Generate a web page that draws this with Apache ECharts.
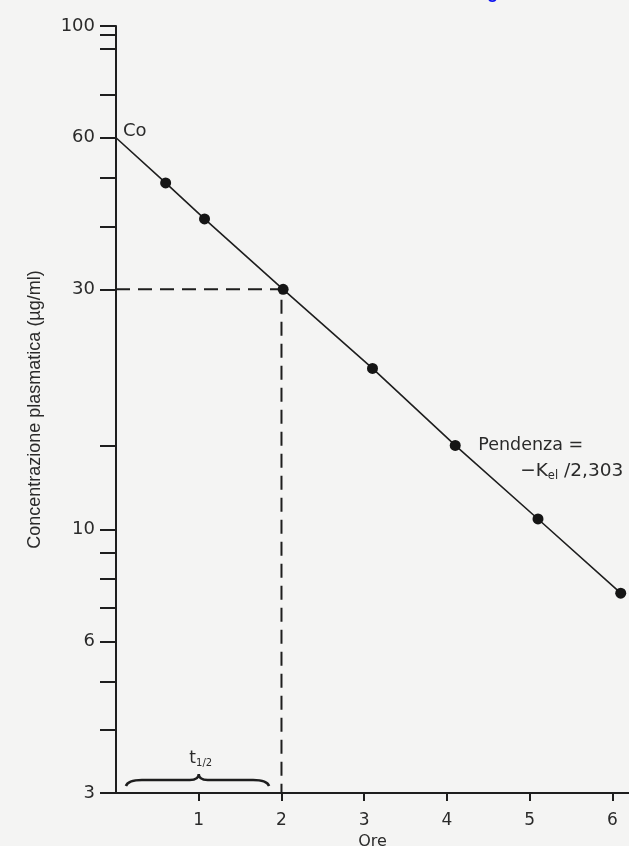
<!DOCTYPE html>
<html>
<head>
<meta charset="utf-8">
<script src="https://cdn.jsdelivr.net/npm/echarts@6/dist/echarts.min.js"></script>
<style>
html,body{margin:0;padding:0;background:#f4f4f3;}
#c{width:629px;height:846px;}
</style>
</head>
<body>
<div id="c"></div>
<script>
// ---- data ----
const hours = [0.6, 1.07, 2.02, 3.1, 4.1, 5.1, 6.1];
const conc  = [48.8, 41.4, 30, 20.9, 14.7, 10.5, 7.48];
const c0 = [0, 60];                       // Co (intercept)
const halfLifeGuide = [[0, 30], [2, 30], [2, 3]];
const yTickValues  = [100, 96, 90, 73, 60, 50, 40, 30, 14.7, 10, 9, 8, 7, 6, 5, 4, 3];
const yLabelValues = [100, 60, 30, 10, 6, 3];
const xTickValues  = [1, 2, 3, 4, 5, 6];
const braceSpan = [0.12, 1.0, 1.85];      // left, cusp, right (hours)

const ink = '#1e1e1e';
const txt = '#2a2a2a';
const numFont = 'DejaVu Sans';

const lineData = [c0].concat(hours.map((h, i) => [h, conc[i]]));

const chart = echarts.init(document.getElementById('c'), null, {renderer: 'canvas'});
chart.setOption({
  backgroundColor: '#f4f4f3',
  animation: false,
  graphic: [{
    type: 'text', left: 487, top: -16,
    style: {text: 'g', fill: '#0a10f0', font: 'bold 18px "Liberation Sans"'}
  }],
  grid: {left: 116, right: 0, top: 26, height: 767, outerBoundsMode: 'none', containLabel: false},
  xAxis: {
    type: 'value', min: 0, max: 6.2,
    name: 'Ore', nameLocation: 'middle', nameGap: 41,
    nameTextStyle: {color: txt, fontSize: 16, fontFamily: numFont},
    splitLine: {show: false},
    axisLine: {show: true, lineStyle: {color: ink, width: 2}},
    axisTick: {show: true, length: 8, lineStyle: {color: ink, width: 2}, customValues: xTickValues},
    axisLabel: {color: txt, fontSize: 17, fontFamily: numFont, margin: 19, customValues: xTickValues}
  },
  yAxis: {
    type: 'log', logBase: 10, min: 3, max: 100,
    name: 'Concentrazione plasmatica (µg/ml)', nameLocation: 'middle', nameGap: 72, nameRotate: 90,
    nameTextStyle: {color: txt, fontSize: 18, fontFamily: 'Liberation Sans'},
    splitLine: {show: false},
    axisLine: {show: true, lineStyle: {color: ink, width: 2}},
    axisTick: {show: true, length: 16, lineStyle: {color: ink, width: 2}, customValues: yTickValues},
    axisLabel: {color: txt, fontSize: 18, fontFamily: numFont, margin: 21, customValues: yLabelValues}
  },
  series: [
    {
      type: 'line', data: halfLifeGuide, symbol: 'none', silent: true,
      lineStyle: {color: ink, width: 2, type: [14, 8]}, z: 2
    },
    {
      type: 'line', symbol: 'circle', symbolSize: 11,
      showAllSymbol: true,
      itemStyle: {color: '#151515'},
      lineStyle: {color: ink, width: 1.6}, z: 3,
      markPoint: {
        symbol: 'circle', symbolSize: 0, itemStyle: {color: 'rgba(0,0,0,0)'},
        data: [
          {coord: c0, label: {show: true, formatter: 'Co', position: 'right', distance: 0, offset: [7, -6],
            color: txt, fontSize: 18, fontFamily: numFont}},
          {coord: [hours[4], conc[4]], label: {show: true, formatter: 'Pendenza =', position: 'right', distance: 0,
            offset: [23, 0], color: txt, fontSize: 17.5, fontFamily: numFont}},
          {coord: [hours[4], conc[4]], label: {show: true, position: 'right', distance: 0, offset: [65, 26],
            formatter: '{m|−K}{s|el}{m| /2,303}',
            rich: {
              m: {color: txt, fontSize: 18.5, fontFamily: numFont},
              s: {color: txt, fontSize: 11.5, fontFamily: numFont, padding: [9, 0, 0, 0]}
            }}}
        ]
      },
      data: lineData.map((p, i) => i === 0 ? {value: p, symbol: 'none'} : p)
    },
    {
      type: 'custom', silent: true, z: 4,
      data: [braceSpan],
      renderItem: function (params, api) {
        const l = api.coord([api.value(0), 3]);
        const m = api.coord([api.value(1), 3]);
        const r = api.coord([api.value(2), 3]);
        const yb = l[1] - 7;
        const xl = l[0], xm = m[0], xr = r[0];
        const d = 'M' + xl + ' ' + yb +
          ' Q' + (xl + 2) + ' ' + (yb - 6) + ' ' + (xl + 16) + ' ' + (yb - 6) +
          ' L' + (xm - 9) + ' ' + (yb - 6) +
          ' Q' + xm + ' ' + (yb - 6) + ' ' + xm + ' ' + (yb - 12) +
          ' Q' + xm + ' ' + (yb - 6) + ' ' + (xm + 9) + ' ' + (yb - 6) +
          ' L' + (xr - 16) + ' ' + (yb - 6) +
          ' Q' + (xr - 2) + ' ' + (yb - 6) + ' ' + xr + ' ' + yb;
        return {
          type: 'group',
          children: [
            {type: 'path', shape: {pathData: d}, style: {fill: null, stroke: ink, lineWidth: 2.5}},
            {type: 'text', x: xm + 2, y: yb - 27,
              style: {
                text: '{t|t}{s|1/2}', align: 'center', verticalAlign: 'middle',
                rich: {
                  t: {fill: txt, fontSize: 17, fontFamily: numFont},
                  s: {fill: txt, fontSize: 10, fontFamily: numFont, padding: [8, 0, 0, 0]}
                }
              }}
          ]
        };
      }
    }
  ]
});
</script>
</body>
</html>
